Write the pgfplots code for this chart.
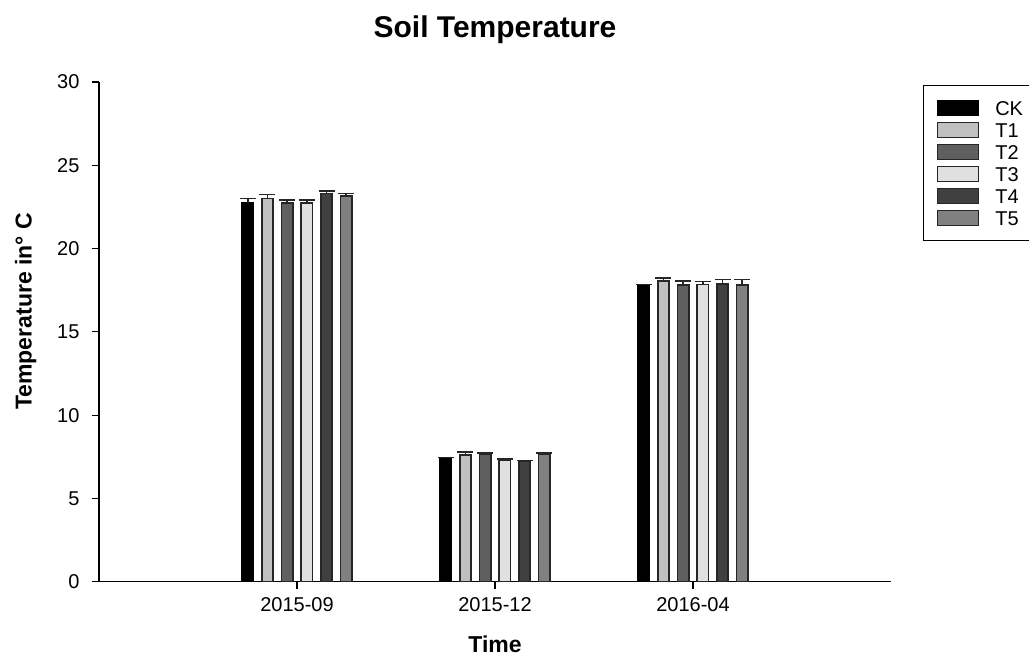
\documentclass[border=0pt]{standalone}
\usepackage{pgfplots}
\pgfplotsset{compat=1.18}
\usepackage{fontspec}
\setmainfont{Liberation Sans}
\definecolor{cCK}{HTML}{000000}
\definecolor{cT1}{HTML}{C0C0C0}
\definecolor{cT2}{HTML}{5F5F5F}
\definecolor{cT3}{HTML}{E0E0E0}
\definecolor{cT4}{HTML}{404040}
\definecolor{cT5}{HTML}{808080}
\definecolor{edge}{HTML}{262626}
\begin{document}
\begin{tikzpicture}
\path[use as bounding box] (-99pt,-76.3pt) rectangle (930pt,581.7pt);
\begin{axis}[
  at={(0pt,0pt)}, anchor=south west,
  scale only axis, width=792pt, height=499.7pt,
  xmin=0, xmax=4, ymin=0, ymax=30,
  axis x line*=bottom, axis y line*=left,
  axis line style={line width=1.2pt, black},
  xtick={1,2,3}, xticklabels={2015-09,2015-12,2016-04},
  ytick={0,5,...,30},
  tick align=outside, major tick length=7pt,
  tick style={line width=1.2pt, black},
  /pgf/number format/assume math mode=true,
  tick label style={font=\fontsize{20}{20}\selectfont},
  yticklabel style={xshift=-9pt},
  xticklabel style={yshift=-5pt},
  ybar=8.5pt, bar width=11.2pt,
  title={Soil Temperature},
  title style={at={(axis description cs:0.5,1)}, anchor=base, yshift=38pt, font=\bfseries\fontsize{30}{30}\selectfont},
  xlabel={Time},
  xlabel style={at={(axis description cs:0.5,0)}, anchor=base, yshift=-71.3pt, font=\bfseries\fontsize{23}{23}\selectfont},
  ylabel={Temperature in° C},
  ylabel style={at={(axis description cs:-0.085,0.541)}, anchor=base, font=\bfseries\fontsize{23}{23}\selectfont},
  legend style={at={(axis description cs:1.0404,0.994)}, anchor=north west,
    draw=black, line width=1pt, inner xsep=13pt, inner ysep=11.5pt,
    font=\fontsize{20}{20}\selectfont, row sep=0pt, column sep=16pt,
    nodes={inner sep=0pt, text height=18.2pt, text depth=3.8pt}},
  legend cell align=left,
  legend image code/.code={\draw[#1,/tikz/.cd,line width=1.8pt] (0pt,-7.5pt) rectangle (41pt,7.5pt);},
  error bars/y dir=plus, error bars/y explicit,
  error bars/error mark=|,
  error bars/error bar style={line width=1.7pt, edge},
  error bars/error mark options={mark size=8pt, line width=1.7pt, edge},
]
\addplot[fill=cCK, draw=black, line width=1.6pt] coordinates {(1,22.75) +- (0,0.25) (2,7.42) +- (0,0.04) (3,17.82) +- (0,0.03)};
\addplot[fill=cT1, draw=edge, line width=1.6pt] coordinates {(1,23.0) +- (0,0.25) (2,7.6) +- (0,0.18) (3,18.05) +- (0,0.2)};
\addplot[fill=cT2, draw=edge, line width=1.6pt] coordinates {(1,22.75) +- (0,0.18) (2,7.68) +- (0,0.04) (3,17.82) +- (0,0.22)};
\addplot[fill=cT3, draw=edge, line width=1.6pt] coordinates {(1,22.75) +- (0,0.15) (2,7.32) +- (0,0.04) (3,17.85) +- (0,0.18)};
\addplot[fill=cT4, draw=edge, line width=1.6pt] coordinates {(1,23.3) +- (0,0.15) (2,7.23) +- (0,0.04) (3,17.86) +- (0,0.28)};
\addplot[fill=cT5, draw=edge, line width=1.6pt] coordinates {(1,23.15) +- (0,0.15) (2,7.68) +- (0,0.05) (3,17.8) +- (0,0.34)};
\legend{CK,T1,T2,T3,T4,T5}
\end{axis}
\end{tikzpicture}
\end{document}
